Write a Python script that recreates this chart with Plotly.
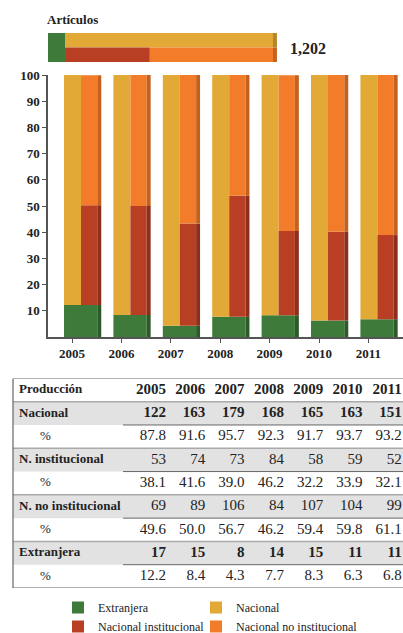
import plotly.graph_objects as go

# datos
years = ['2005', '2006', '2007', '2008', '2009', '2010', '2011']
nacional = [122, 163, 179, 168, 165, 163, 151]
nacional_pct = [87.8, 91.6, 95.7, 92.3, 91.7, 93.7, 93.2]
institucional = [53, 74, 73, 84, 58, 59, 52]
institucional_pct = [38.1, 41.6, 39.0, 46.2, 32.2, 33.9, 32.1]
no_institucional = [69, 89, 106, 84, 107, 104, 99]
no_institucional_pct = [49.6, 50.0, 56.7, 46.2, 59.4, 59.8, 61.1]
extranjera = [17, 15, 8, 14, 15, 11, 11]
extranjera_pct = [12.2, 8.4, 4.3, 7.7, 8.3, 6.3, 6.8]
y_ticks = [10, 20, 30, 40, 50, 60, 70, 80, 90, 100]
row_labels = ['Nacional', '%', 'N. institucional', '%', 'N. no institucional', '%', 'Extranjera', '%']

W, H = 403, 633
SERIF = 'Liberation Serif'
TXT = '#222'
GREEN, YELLOW, RED, ORANGE = '#3e7b3a', '#e3a936', '#b83f24', '#f27c2a'
GREEN_D, YELLOW_D, RED_D, ORANGE_D = '#2c5a29', '#b5852b', '#8c2f1b', '#c4611f'


def px(x):
    return x / W


def py(y):
    return 1 - y / H


fig = go.Figure()
idx = list(range(len(years)))

# --- barras por año (izquierda: extranjera + nacional, derecha: extranjera + inst + no inst)
L0, LW, RW, SW = -0.162, 0.344, 0.33, 0.08
base_orange = [e + i for e, i in zip(extranjera_pct, institucional_pct)]
bar_kw = dict(marker_line_width=0, hoverinfo='skip')

fig.add_trace(go.Bar(x=idx, y=extranjera_pct, base=0, offset=L0, width=LW + RW,
                     marker_color=GREEN, name='Extranjera', legend='legend', legendrank=1, **bar_kw))
fig.add_trace(go.Bar(x=idx, y=nacional_pct, base=extranjera_pct, offset=L0, width=LW,
                     marker_color=YELLOW, name='Nacional', legend='legend2', legendrank=1, **bar_kw))
fig.add_trace(go.Bar(x=idx, y=institucional_pct, base=extranjera_pct, offset=L0 + LW, width=RW,
                     marker_color=RED, name='Nacional institucional', legend='legend', legendrank=2,
                     **bar_kw))
fig.add_trace(go.Bar(x=idx, y=no_institucional_pct, base=base_orange, offset=L0 + LW, width=RW,
                     marker_color=ORANGE, name='Nacional no institucional', legend='legend2',
                     legendrank=2, **bar_kw))
# lado sombreado (efecto 3D)
for vals, base, col in [(extranjera_pct, 0, GREEN_D),
                        (institucional_pct, extranjera_pct, RED_D),
                        (no_institucional_pct, base_orange, ORANGE_D)]:
    fig.add_trace(go.Bar(x=idx, y=vals, base=base, offset=L0 + LW + RW, width=SW,
                         marker_color=col, showlegend=False, **bar_kw))

# --- barra superior de artículos
tot_ext = sum(extranjera)
tot_nac = sum(nacional)
tot_inst = sum(institucional)
tot_noinst = sum(no_institucional)
total = tot_ext + tot_nac
side = 21
top_kw = dict(orientation='h', xaxis='x2', yaxis='y2', showlegend=False, **bar_kw)
fig.add_trace(go.Bar(y=[1], x=[tot_ext], base=0, width=2, marker_color=GREEN, **top_kw))
fig.add_trace(go.Bar(y=[1.5], x=[tot_nac], base=tot_ext, width=1, marker_color=YELLOW, **top_kw))
fig.add_trace(go.Bar(y=[0.5], x=[tot_inst], base=tot_ext, width=1, marker_color=RED, **top_kw))
fig.add_trace(go.Bar(y=[0.5], x=[tot_noinst], base=tot_ext + tot_inst, width=1, marker_color=ORANGE, **top_kw))
fig.add_trace(go.Bar(y=[1.5, 0.5], x=[side, side], base=total, width=1,
                     marker_color=[YELLOW_D, ORANGE_D], **top_kw))

# --- tabla (texto en ejes propios: x en píxeles, y en filas)
t_top, t_bottom, t_left = 378.4, 588, 13
col_right = [166 + 39.3 * k for k in idx]
n_rows = len(row_labels) + 1
tab_kw = dict(xaxis='x3', yaxis='y3', mode='text', showlegend=False, hoverinfo='skip',
              cliponaxis=False)

fig.add_trace(go.Scatter(x=[19], y=[0], text=['<b>Producción</b>'], textposition='middle right',
                         textfont=dict(family=SERIF, size=13, color=TXT), **tab_kw))
lab_x = [40 if lab == '%' else 19 for lab in row_labels]
lab_txt = [lab if lab == '%' else f'<b>{lab}</b>' for lab in row_labels]
fig.add_trace(go.Scatter(x=lab_x, y=list(range(1, n_rows)), text=lab_txt,
                         textposition='middle right',
                         textfont=dict(family=SERIF, size=13, color=TXT), **tab_kw))
for k in idx:
    vals = [f'<b>{years[k]}</b>',
            f'<b>{nacional[k]}</b>', f'{nacional_pct[k]:.1f}',
            f'{institucional[k]}', f'{institucional_pct[k]:.1f}',
            f'{no_institucional[k]}', f'{no_institucional_pct[k]:.1f}',
            f'<b>{extranjera[k]}</b>', f'{extranjera_pct[k]:.1f}']
    fig.add_trace(go.Scatter(x=[col_right[k]] * n_rows, y=list(range(n_rows)), text=vals,
                             textposition='middle left',
                             textfont=dict(family=SERIF, size=15, color=TXT), **tab_kw))

shapes = []
line_dark = dict(color='#666', width=1.2)
for r in (1, 3, 5, 7):
    shapes.append(dict(type='rect', xref='x3', yref='y3', x0=t_left, x1=W, y0=r - 0.5, y1=r + 0.5,
                       fillcolor='#e2e2e2', line_width=0, layer='below'))
    shapes.append(dict(type='line', xref='x3', yref='y3', x0=t_left, x1=W, y0=r - 0.5, y1=r - 0.5,
                       line=dict(color='#aaa', width=1.5)))
    shapes.append(dict(type='line', xref='x3', yref='y3', x0=123, x1=W, y0=r + 0.5, y1=r + 0.5,
                       line=dict(color='#666', width=1)))
shapes.append(dict(type='line', xref='x3', yref='y3', x0=t_left, x1=W, y0=-0.5, y1=-0.5, line=line_dark))
shapes.append(dict(type='line', xref='x3', yref='y3', x0=t_left, x1=W,
                   y0=n_rows - 0.5, y1=n_rows - 0.5, line=line_dark))
shapes.append(dict(type='line', xref='x3', yref='y3', x0=t_left, x1=t_left,
                   y0=-0.5, y1=n_rows - 0.5, line=line_dark))

axis_font = dict(family=SERIF, size=13, weight='bold', color=TXT)
legend_kw = dict(orientation='v', yanchor='top', xanchor='left', traceorder='normal',
                 bgcolor='rgba(0,0,0,0)', font=dict(family=SERIF, size=12, color=TXT))
fig.update_layout(
    width=W, height=H,
    margin=dict(l=0, r=0, t=0, b=0, autoexpand=False),
    paper_bgcolor='white', plot_bgcolor='white',
    barmode='overlay',
    font=dict(family=SERIF, color=TXT),
    shapes=shapes,
    xaxis=dict(domain=[px(48), 1], range=[-0.486, 6.70], tickvals=idx, ticktext=years,
               showline=True, linecolor='#555', linewidth=1.5, ticks='outside', ticklen=4,
               tickcolor='#555', showgrid=False, zeroline=False, tickfont=axis_font),
    yaxis=dict(domain=[py(337), py(75)], range=[0, 100], tickvals=y_ticks,
               showline=True, linecolor='#555', linewidth=1.5, ticks='outside', ticklen=4,
               tickcolor='#555', showgrid=False, zeroline=False, tickfont=axis_font),
    xaxis2=dict(domain=[px(48), 1], range=[0, (W - 48) * total / 225], anchor='y2',
                visible=False, fixedrange=True),
    yaxis2=dict(domain=[py(62), py(33)], range=[0, 2], anchor='x2',
                visible=False, fixedrange=True),
    xaxis3=dict(domain=[0, 1], range=[0, W], anchor='y3', visible=False, fixedrange=True),
    yaxis3=dict(domain=[py(t_bottom), py(t_top)], range=[n_rows - 0.5, -0.5], anchor='x3',
                visible=False, fixedrange=True),
    legend=dict(x=px(58), y=py(593), **legend_kw),
    legend2=dict(x=px(196), y=py(593), **legend_kw),
    annotations=[
        dict(text='<b>Artículos</b>', xref='paper', yref='paper', x=px(45), y=py(19),
             xanchor='left', yanchor='middle', showarrow=False,
             font=dict(family=SERIF, size=13, color=TXT)),
        dict(text=f'<b>{total:,}</b>', xref='paper', yref='paper', x=px(288), y=py(48),
             xanchor='left', yanchor='middle', showarrow=False,
             font=dict(family=SERIF, size=16, color=TXT)),
    ],
)

fig.write_html('out.html', config={'displayModeBar': False},
               post_script="document.body.style.margin='0';")
